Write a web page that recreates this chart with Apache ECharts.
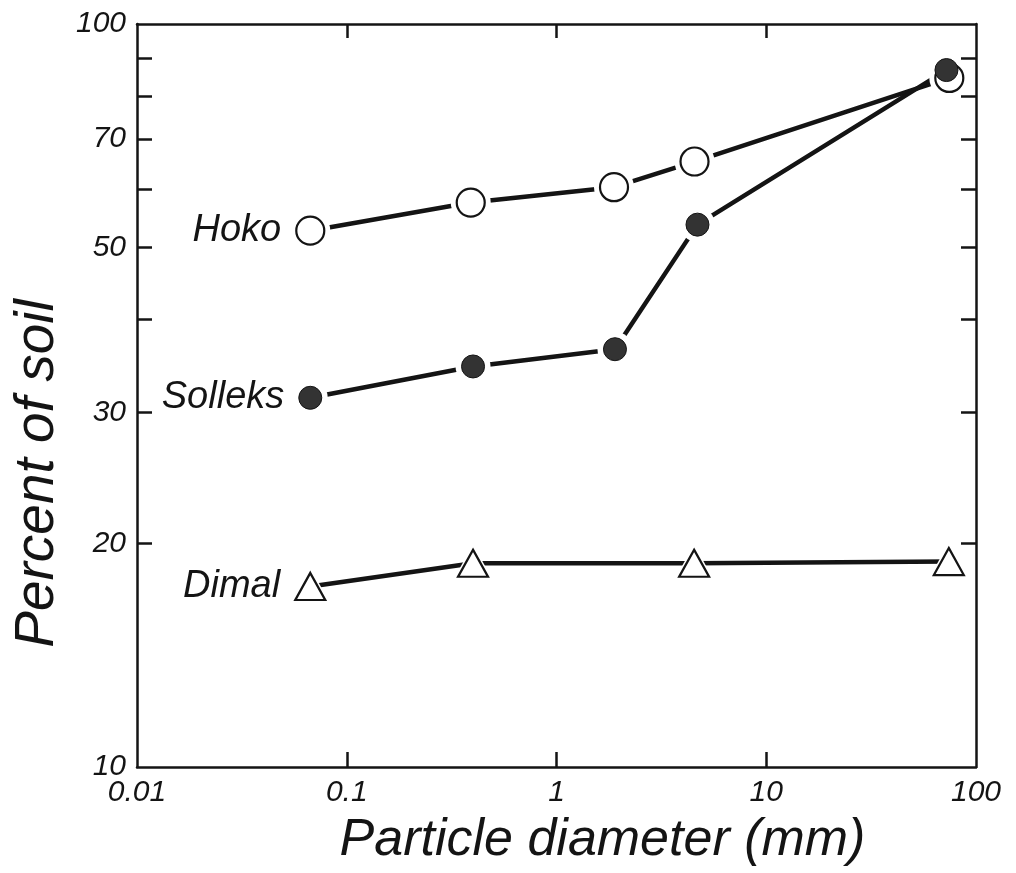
<!DOCTYPE html>
<html><head><meta charset="utf-8">
<script src="https://cdn.jsdelivr.net/npm/echarts@6/dist/echarts.min.js"></script>
<style>html,body{margin:0;padding:0;background:#fff}#c{width:1016px;height:873px}</style>
</head><body><div id="c"></div>
<script>
// ---- data ----
const seriesNames = ['Hoko', 'Solleks', 'Dimal'];
const hokoX = [0.067, 0.39, 1.88, 4.55, 74.6];
const hokoY = [52.7, 57.5, 60.3, 65.3, 84.6];
const sollekX = [0.067, 0.40, 1.90, 4.7, 72.3];
const sollekY = [31.4, 34.6, 36.5, 53.7, 86.7];
const dimalX = [0.067, 0.40, 4.53, 74.2];
const dimalY = [17.5, 18.8, 18.8, 18.9];
const xTickValues = [0.1, 1, 10];
const xLabelValues = [0.01, 0.1, 1, 10, 100];
const yTickValues = [20, 30, 40, 50, 60, 70, 80, 90];
const yLabelValues = [10, 20, 30, 50, 70, 100];
const xTitle = 'Particle diameter (mm)';
const yTitle = 'Percent of soil';

// ---- styling ----
const INK = '#141414';
const FONT = '"Liberation Sans", Arial, sans-serif';
const txt = (size) => ({ fontFamily: FONT, fontStyle: 'italic', fontSize: size, color: INK });
const fmt = (v) => String(+Number(v).toPrecision(6));

function pairs(xs, ys) { return xs.map((x, i) => [x, ys[i]]); }
function withLabel(xs, ys, name) {
  return xs.map((x, i) => i === 0
    ? { value: [x, ys[i]], label: { show: true, formatter: name, position: 'left', distance: 14, ...txt(38) } }
    : [x, ys[i]]);
}

const data = [
  { name: seriesNames[0], d: pairs(hokoX, hokoY), l: withLabel(hokoX, hokoY, seriesNames[0]),
    symbol: 'circle', size: 28, halo: 40, fill: '#fff', border: 2.2 },
  { name: seriesNames[1], d: pairs(sollekX, sollekY), l: withLabel(sollekX, sollekY, seriesNames[1]),
    symbol: 'circle', size: 23, halo: 35, fill: '#333', border: 1 },
  { name: seriesNames[2], d: pairs(dimalX, dimalY), l: withLabel(dimalX, dimalY, seriesNames[2]),
    symbol: 'triangle', size: [30, 27], halo: [42, 38], fill: '#fff', border: 2.2 }
];

const series = [];
data.forEach(s => series.push({
  type: 'line', name: s.name, data: s.d, symbol: 'none', z: 2, silent: true,
  lineStyle: { color: INK, width: 4.5 }
}));
data.forEach(s => series.push({
  type: 'scatter', name: s.name + '-halo', data: s.d, symbol: s.symbol, symbolSize: s.halo, z: 3, silent: true,
  itemStyle: { color: '#fff', opacity: 1 }
}));
data.forEach(s => series.push({
  type: 'scatter', name: s.name + '-mark', data: s.l, symbol: s.symbol, symbolSize: s.size, z: 4, silent: true,
  itemStyle: { color: s.fill, borderColor: INK, borderWidth: s.border, opacity: 1 }
}));

const axisLine = { show: true, onZero: false, lineStyle: { color: INK, width: 2.5 } };

const option = {
  backgroundColor: '#fff',
  animation: false,
  grid: { left: 137, right: 40, top: 24, bottom: 106, containLabel: false },
  xAxis: [
    {
      type: 'log', logBase: 10, min: 0.01, max: 100, position: 'bottom',
      axisLine, splitLine: { show: false },
      axisTick: { show: true, inside: true, length: 15, customValues: xTickValues, lineStyle: { color: INK, width: 2.5 } },
      axisLabel: { show: true, customValues: xLabelValues, formatter: fmt, margin: 11, ...txt(30) },
      name: xTitle, nameLocation: 'middle', nameGap: 48,
      nameTextStyle: { ...txt(52), padding: [0, 0, 0, 92] }
    },
    {
      type: 'log', logBase: 10, min: 0.01, max: 100, position: 'top',
      axisLine, splitLine: { show: false },
      axisTick: { show: true, inside: true, length: 14, customValues: xTickValues, lineStyle: { color: INK, width: 2.5 } },
      axisLabel: { show: false }
    }
  ],
  yAxis: [
    {
      type: 'log', logBase: 10, min: 10, max: 100, position: 'left',
      axisLine, splitLine: { show: false },
      axisTick: { show: true, inside: true, length: 15, customValues: yTickValues, lineStyle: { color: INK, width: 2.5 } },
      axisLabel: { show: true, customValues: yLabelValues, formatter: fmt, margin: 11, ...txt(30) },
      name: yTitle, nameLocation: 'middle', nameGap: 57,
      nameTextStyle: { ...txt(55), padding: [0, 156, 0, 0] }
    },
    {
      type: 'log', logBase: 10, min: 10, max: 100, position: 'right',
      axisLine, splitLine: { show: false },
      axisTick: { show: true, inside: true, length: 15, customValues: yTickValues, lineStyle: { color: INK, width: 2.5 } },
      axisLabel: { show: false }
    }
  ],
  series
};

const chart = echarts.init(document.getElementById('c'), null, { renderer: 'canvas' });
chart.setOption(option);
</script>
</body></html>
